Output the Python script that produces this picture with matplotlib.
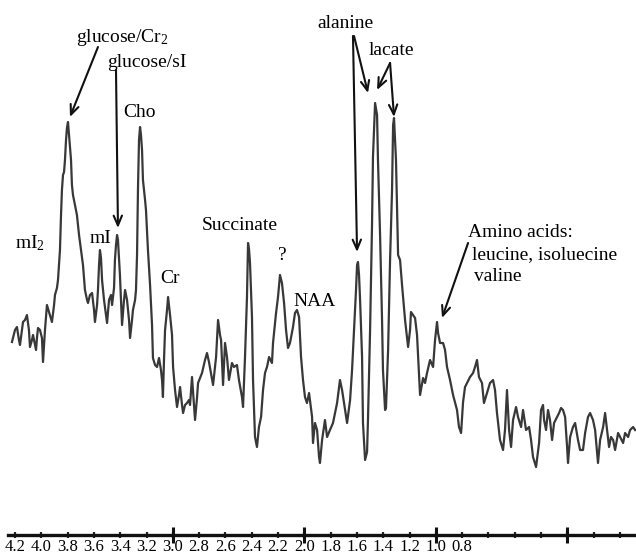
import matplotlib
matplotlib.use("Agg")
import matplotlib.pyplot as plt
from matplotlib.ticker import FixedLocator, FixedFormatter

plt.rcParams["font.family"] = ["Liberation Serif", "DejaVu Serif"]
plt.rcParams["mathtext.fontset"] = "custom"
plt.rcParams["mathtext.rm"] = "Liberation Serif"
plt.rcParams["mathtext.it"] = "Liberation Serif:italic"

# 1H MR spectrum: chemical shift (ppm) and signal intensity (a.u.)
chemical_shift_ppm = [
    4.223, 4.200, 4.185, 4.170, 4.162, 4.147, 4.139, 4.124, 4.109, 4.094,
    4.086, 4.071, 4.063, 4.048, 4.040, 4.033, 4.025, 4.010, 3.995, 3.987,
    3.972, 3.957, 3.941, 3.919, 3.903, 3.896, 3.881, 3.873, 3.858, 3.850,
    3.843, 3.835, 3.827, 3.820, 3.812, 3.805, 3.797, 3.789, 3.782, 3.774,
    3.767, 3.759, 3.744, 3.729, 3.713, 3.698, 3.683, 3.668, 3.652, 3.645,
    3.630, 3.614, 3.599, 3.592, 3.576, 3.569, 3.561, 3.554, 3.546, 3.538,
    3.523, 3.508, 3.500, 3.485, 3.470, 3.462, 3.447, 3.440, 3.432, 3.424,
    3.417, 3.409, 3.402, 3.386, 3.371, 3.363, 3.348, 3.333, 3.325, 3.310,
    3.303, 3.287, 3.280, 3.272, 3.265, 3.257, 3.249, 3.242, 3.234, 3.227,
    3.211, 3.204, 3.189, 3.173, 3.158, 3.151, 3.135, 3.120, 3.105, 3.090,
    3.082, 3.075, 3.067, 3.059, 3.044, 3.036, 3.029, 3.021, 3.006, 2.998,
    2.983, 2.968, 2.953, 2.945, 2.930, 2.922, 2.907, 2.892, 2.877, 2.869,
    2.854, 2.839, 2.831, 2.816, 2.808, 2.793, 2.778, 2.755, 2.740, 2.725,
    2.717, 2.694, 2.671, 2.656, 2.641, 2.633, 2.618, 2.603, 2.588, 2.573,
    2.550, 2.535, 2.512, 2.497, 2.474, 2.466, 2.451, 2.436, 2.428, 2.420,
    2.413, 2.398, 2.390, 2.375, 2.360, 2.345, 2.329, 2.314, 2.299, 2.284,
    2.268, 2.246, 2.238, 2.215, 2.200, 2.185, 2.170, 2.154, 2.139, 2.124,
    2.109, 2.086, 2.071, 2.056, 2.040, 2.025, 2.010, 1.995, 1.980, 1.964,
    1.941, 1.934, 1.919, 1.903, 1.888, 1.881, 1.865, 1.843, 1.827, 1.805,
    1.782, 1.751, 1.729, 1.713, 1.690, 1.675, 1.652, 1.637, 1.622, 1.607,
    1.599, 1.592, 1.584, 1.576, 1.561, 1.554, 1.538, 1.523, 1.516, 1.500,
    1.485, 1.478, 1.462, 1.447, 1.440, 1.424, 1.409, 1.402, 1.386, 1.379,
    1.363, 1.348, 1.333, 1.325, 1.318, 1.303, 1.287, 1.272, 1.257, 1.234,
    1.211, 1.196, 1.189, 1.173, 1.158, 1.143, 1.128, 1.120, 1.097, 1.082,
    1.067, 1.044, 1.021, 1.006, 0.991, 0.983, 0.968, 0.945, 0.930, 0.915,
    0.892, 0.869, 0.839, 0.824, 0.808, 0.793, 0.778, 0.763, 0.740, 0.717,
    0.702, 0.687, 0.672, 0.649, 0.634, 0.611, 0.588, 0.565, 0.550, 0.535,
    0.512, 0.489, 0.474, 0.459, 0.443, 0.428, 0.413, 0.390, 0.375, 0.352,
    0.337, 0.314, 0.291, 0.276, 0.261, 0.238, 0.215, 0.200, 0.185, 0.177,
    0.162, 0.147, 0.132, 0.116, 0.101, 0.078, 0.063, 0.048, 0.033, 0.017,
    0.002, -0.005, -0.021, -0.043, -0.059, -0.081, -0.097, -0.119, -0.135, -0.157,
    -0.173, -0.195, -0.211, -0.233, -0.249, -0.272, -0.287, -0.302, -0.317, -0.332,
    -0.348, -0.363, -0.386, -0.401, -0.424, -0.439, -0.462, -0.477, -0.500, -0.515,
]
intensity = [
    138, 150, 153, 140, 135, 150, 158, 160, 165, 150,
    133, 140, 145, 135, 130, 142, 152, 150, 142, 118,
    150, 175, 168, 158, 175, 185, 192, 200, 230, 265,
    290, 305, 308, 320, 340, 352, 358, 345, 335, 320,
    295, 285, 275, 265, 245, 230, 215, 190, 180, 177,
    185, 187, 170, 158, 175, 190, 215, 230, 222, 200,
    180, 165, 157, 180, 185, 175, 192, 220, 235, 245,
    240, 222, 205, 155, 180, 190, 180, 160, 142, 160,
    170, 180, 190, 225, 290, 340, 353, 345, 330, 300,
    280, 270, 230, 195, 155, 122, 115, 113, 122, 110,
    100, 83, 120, 150, 170, 183, 175, 165, 145, 113,
    90, 73, 85, 93, 75, 67, 75, 77, 80, 75,
    103, 75, 60, 82, 97, 102, 107, 120, 127, 118,
    112, 95, 123, 160, 145, 140, 95, 137, 123, 100,
    117, 113, 115, 100, 83, 73, 123, 183, 237, 230,
    217, 163, 100, 43, 33, 53, 63, 90, 107, 113,
    123, 117, 137, 167, 183, 205, 197, 177, 150, 132,
    137, 153, 167, 170, 163, 123, 100, 83, 77, 87,
    63, 37, 57, 50, 23, 17, 40, 60, 43, 50,
    57, 77, 100, 90, 70, 57, 80, 110, 150, 190,
    215, 218, 205, 180, 123, 57, 20, 28, 60, 150,
    257, 323, 377, 365, 320, 245, 160, 110, 70, 72,
    130, 220, 290, 355, 362, 320, 225, 220, 195, 160,
    133, 150, 168, 165, 162, 145, 105, 85, 102, 97,
    107, 120, 113, 140, 158, 147, 137, 137, 130, 113,
    100, 85, 70, 53, 47, 78, 93, 97, 103, 107,
    113, 120, 103, 97, 77, 87, 97, 100, 90, 67,
    40, 30, 50, 90, 50, 33, 60, 73, 63, 53,
    70, 50, 53, 40, 23, 13, 37, 70, 75, 60,
    50, 70, 60, 40, 57, 63, 67, 72, 70, 63,
    33, 17, 43, 53, 57, 40, 30, 30, 47, 63,
    67, 60, 50, 17, 40, 53, 67, 50, 33, 43,
    40, 30, 47, 43, 37, 47, 43, 50, 53, 50,
]

# Scale ruler
tick_values = [4.2, 4.0, 3.8, 3.6, 3.4, 3.2, 3.0, 2.8, 2.6, 2.4, 2.2, 2.0,
               1.8, 1.6, 1.4, 1.2, 1.0, 0.8, 0.6, 0.4, 0.2, 0.0, -0.2, -0.4]
tick_labels = ["4.2", "4.0", "3.8", "3.6", "3.4", "3.2", "3.0", "2.8", "2.6",
               "2.4", "2.2", "2.0", "1.8", "1.6", "1.4", "1.2", "1.0", "0.8",
               "", "", "", "", "", ""]
major_marks = [3.0, 2.0, 1.0, 0.0]

fig = plt.figure(figsize=(6.36, 5.55), dpi=100)
ax = fig.add_axes([0, 0, 1, 1])
ax.plot(chemical_shift_ppm, intensity, color="#383838", lw=1.6,
        solid_joinstyle="round")

ax.set_xlim(4.314, -0.522)
ax.set_ylim(-75, 480)

for side in ("top", "left", "right"):
    ax.spines[side].set_visible(False)
ax.spines["bottom"].set_position(("data", -55))
ax.spines["bottom"].set_bounds(4.25, -0.522)
ax.spines["bottom"].set_linewidth(2.4)
ax.spines["bottom"].set_color("#111111")
ax.yaxis.set_visible(False)

ax.xaxis.set_major_locator(FixedLocator(tick_values))
ax.xaxis.set_major_formatter(FixedFormatter(tick_labels))
ax.tick_params(axis="x", which="major", direction="inout", length=4,
               width=1.6, color="#222222", pad=1, labelsize=12)

# larger marks at whole ppm values
ax2 = ax.twiny()
ax2.set_xlim(ax.get_xlim())
for side in ("top", "left", "right", "bottom"):
    ax2.spines[side].set_visible(False)
ax2.spines["bottom"].set_position(("data", -55))
ax2.xaxis.set_ticks_position("bottom")
ax2.set_xticks(major_marks)
ax2.set_xticklabels([])
ax2.tick_params(axis="x", which="major", direction="inout", length=12,
                width=2.2, color="#111111")

fs = 14
ax.text(3.736, 438, "glucose/Cr$_2$", fontsize=fs, va="baseline")
ax.text(3.500, 413, "glucose/sI", fontsize=fs, va="baseline")
ax.text(3.379, 363, "Cho", fontsize=fs, va="baseline")
ax.text(4.200, 232, "mI$_2$", fontsize=fs, va="baseline")
ax.text(3.630, 237, "mI", fontsize=fs, va="baseline")
ax.text(3.097, 197, "Cr", fontsize=fs, va="baseline")
ax.text(2.778, 250, "Succinate", fontsize=fs, va="baseline")
ax.text(2.200, 220, "?", fontsize=fs, va="baseline")
ax.text(2.086, 174, "NAA", fontsize=fs, va="baseline")
ax.text(1.903, 452, "alanine", fontsize=fs, va="baseline")
ax.text(1.508, 425, "lacate", fontsize=fs, va="baseline")
ax.text(0.755, 243, "Amino acids:", fontsize=fs, va="baseline")
ax.text(0.725, 221, "leucine, isoluecine", fontsize=fs, va="baseline")
ax.text(0.710, 199, "valine", fontsize=fs, va="baseline")

arrow = dict(arrowstyle="->,head_length=0.7,head_width=0.3", color="#111111",
             lw=1.5, shrinkA=0, shrinkB=0)
arrows = [
    ((3.569, 433), (3.782, 363)),
    ((3.432, 410), (3.417, 252)),
    ((1.630, 444), (1.599, 228)),
    ((1.622, 444), (1.516, 387)),
    ((1.348, 417), (1.447, 390)),
    ((1.348, 417), (1.318, 363)),
    ((0.755, 237), (0.953, 162)),
]
for start, tip in arrows:
    ax.annotate("", xy=tip, xytext=start, arrowprops=arrow)

fig.savefig("out.png", dpi=100, facecolor="white")
